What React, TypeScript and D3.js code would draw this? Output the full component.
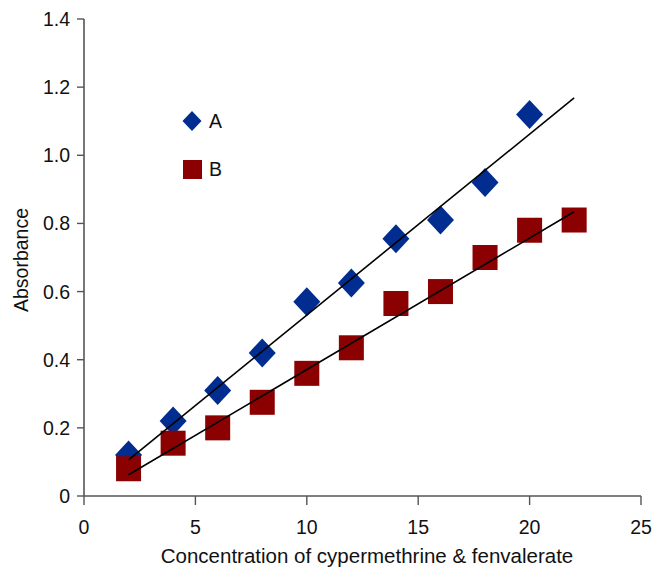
import React from "react";
import * as d3 from "d3";

const concA = [2, 4, 6, 8, 10, 12, 14, 16, 18, 20];
const absA = [0.12, 0.22, 0.31, 0.42, 0.57, 0.625, 0.755, 0.81, 0.92, 1.12];
const concB = [2, 4, 6, 8, 10, 12, 14, 16, 18, 20, 22];
const absB = [0.08, 0.155, 0.2, 0.275, 0.36, 0.435, 0.565, 0.6, 0.7, 0.78, 0.81];
// trend lines: [slope, intercept], drawn from x=2 to x=22
const fitA = [0.0531, 0.0];
const fitB = [0.0386, -0.015];
const fitRange = [2, 22];
const xTicks = [0, 5, 10, 15, 20, 25];
const yTicks = [0, 0.2, 0.4, 0.6, 0.8, 1.0, 1.2, 1.4];
const seriesNames = ["A", "B"];

const W = 657;
const H = 567;
const font = "'Liberation Sans', Arial, Helvetica, sans-serif";
const blue = "#002d8f";
const red = "#8b0000";
const axisColor = "#555";

export default function App() {
  const x = d3.scaleLinear().domain([0, 25]).range([84, 641]);
  const y = d3.scaleLinear().domain([0, 1.4]).range([496, 19]);

  const fitPath = (f: number[]) =>
    d3
      .line<number>()
      .x((d) => x(d))
      .y((d) => y(f[0] * d + f[1]))(fitRange);

  const diamond = (cx: number, cy: number, w: number, h: number) =>
    `M${cx},${cy - h / 2}L${cx + w / 2},${cy}L${cx},${cy + h / 2}L${cx - w / 2},${cy}Z`;

  const sq = 25;
  return (
    <svg
      width={W}
      height={H}
      style={{ position: "absolute", left: 0, top: 0, background: "#fff" }}
      fontFamily={font}
    >
      {/* axes */}
      <line x1={x(0)} x2={x(0)} y1={y(1.4)} y2={y(0)} stroke={axisColor} strokeWidth={1.6} />
      <line x1={x(0)} x2={x(25)} y1={y(0)} y2={y(0)} stroke={axisColor} strokeWidth={1.6} />
      {yTicks.map((t) => (
        <g key={"y" + t}>
          <line x1={x(0) - 7} x2={x(0)} y1={y(t)} y2={y(t)} stroke={axisColor} strokeWidth={1.4} />
          <text x={70} y={y(t)} dy="0.36em" textAnchor="end" fontSize={19.5} fill="#111">
            {t === 0 ? "0" : t.toFixed(1)}
          </text>
        </g>
      ))}
      {xTicks.map((t) => (
        <g key={"x" + t}>
          <line x1={x(t)} x2={x(t)} y1={y(0)} y2={y(0) + 9} stroke={axisColor} strokeWidth={1.4} />
          <text x={x(t)} y={534} textAnchor="middle" fontSize={19.5} fill="#111">
            {t}
          </text>
        </g>
      ))}
      <text x={367} y={563} textAnchor="middle" fontSize={20.5} fill="#111">
        Concentration of cypermethrine &amp; fenvalerate
      </text>
      <text
        transform={`translate(28,260) rotate(-90)`}
        textAnchor="middle"
        fontSize={19.5}
        fill="#111"
      >
        Absorbance
      </text>

      {/* points A */}
      {concA.map((c, i) => (
        <path key={"a" + i} d={diamond(x(c), y(absA[i]), 27, 29)} fill={blue} />
      ))}
      {/* points B */}
      {concB.map((c, i) => (
        <rect
          key={"b" + i}
          x={x(c) - sq / 2}
          y={y(absB[i]) - sq / 2}
          width={sq}
          height={sq}
          fill={red}
        />
      ))}
      {/* fit lines */}
      <path d={fitPath(fitA) || ""} stroke="#000" strokeWidth={1.6} fill="none" />
      <path d={fitPath(fitB) || ""} stroke="#000" strokeWidth={1.6} fill="none" />

      {/* legend */}
      <path d={diamond(192, 121, 19, 20)} fill={blue} />
      <text x={209} y={128} fontSize={19.5} fill="#111">
        {seriesNames[0]}
      </text>
      <rect x={183} y={160} width={19} height={19} fill={red} />
      <text x={209} y={176} fontSize={19.5} fill="#111">
        {seriesNames[1]}
      </text>
    </svg>
  );
}
